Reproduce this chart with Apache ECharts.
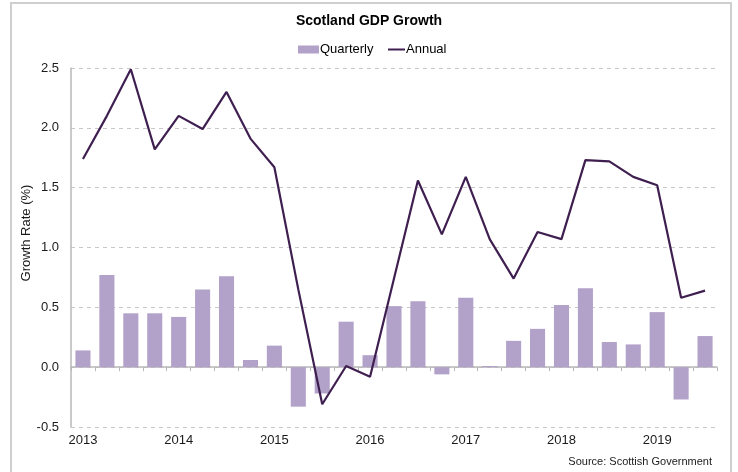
<!DOCTYPE html>
<html>
<head>
<meta charset="utf-8">
<title>Scotland GDP Growth</title>
<script src="https://cdn.jsdelivr.net/npm/echarts@6/dist/echarts.min.js"></script>
<style>
  html, body { margin: 0; padding: 0; background: #ffffff; }
  #chart { width: 738px; height: 472px; }
</style>
</head>
<body>
<div id="chart"></div>
<script>
// Quarters from 2013 Q1 to 2019 Q3; only Q1 carries a year label
const quarters = [
  '2013 Q1','2013 Q2','2013 Q3','2013 Q4',
  '2014 Q1','2014 Q2','2014 Q3','2014 Q4',
  '2015 Q1','2015 Q2','2015 Q3','2015 Q4',
  '2016 Q1','2016 Q2','2016 Q3','2016 Q4',
  '2017 Q1','2017 Q2','2017 Q3','2017 Q4',
  '2018 Q1','2018 Q2','2018 Q3','2018 Q4',
  '2019 Q1','2019 Q2','2019 Q3'
];
const yearLabels = [
  '2013','','','',
  '2014','','','',
  '2015','','','',
  '2016','','','',
  '2017','','','',
  '2018','','','',
  '2019','',''
];

// Growth rates (%)
const quarterly = [
  0.14, 0.77, 0.45, 0.45,
  0.42, 0.65, 0.76, 0.06,
  0.18, -0.33, -0.22, 0.38,
  0.10, 0.51, 0.55, -0.06,
  0.58, 0.01, 0.22, 0.32,
  0.52, 0.66, 0.21, 0.19,
  0.46, -0.27, 0.26
];
const annual = [
  1.74, 2.10, 2.49, 1.82,
  2.10, 1.99, 2.30, 1.91,
  1.67, 0.65, -0.31, 0.01,
  -0.08, 0.74, 1.56, 1.11,
  1.59, 1.07, 0.74, 1.13,
  1.07, 1.73, 1.72, 1.59,
  1.52, 0.58, 0.64
];

const FONT = '"Liberation Sans", Arial, sans-serif';
const BAR_COLOR = '#b2a1c8';
const LINE_COLOR = '#3f1f50';
const TEXT_COLOR = '#1a1a1a';

const chart = echarts.init(document.getElementById('chart'), null, { renderer: 'canvas' });

const legendText = { fontFamily: FONT, fontSize: 13, color: '#000000', padding: [0, 0, 0, -4] };

chart.setOption({
  backgroundColor: '#ffffff',
  animation: false,
  textStyle: { fontFamily: FONT },
  title: {
    text: 'Scotland GDP Growth',
    left: 'center',
    top: 9,
    textStyle: { fontFamily: FONT, fontSize: 14, fontWeight: 'bold', color: '#000000' }
  },
  legend: [
    {
      // bar swatch
      left: 293,
      top: 38,
      itemWidth: 21,
      itemHeight: 8,
      textStyle: legendText,
      data: [{ name: 'Quarterly', icon: 'rect' }]
    },
    {
      // line swatch
      left: 383,
      top: 38,
      itemWidth: 17,
      itemHeight: 2,
      textStyle: legendText,
      data: [{ name: 'Annual', icon: 'rect' }]
    }
  ],
  grid: { left: 71, right: 21, top: 68, bottom: 45, containLabel: false },
  xAxis: [
    {
      // axis line and ticks sitting on the zero line
      type: 'category',
      data: quarters,
      position: 'bottom',
      boundaryGap: true,
      axisLine: { onZero: true, lineStyle: { color: '#b8b8b8', width: 1.5 } },
      axisTick: { show: true, interval: 0, length: 4, lineStyle: { color: '#b8b8b8' } },
      axisLabel: { show: false },
      splitLine: { show: false }
    },
    {
      // year labels along the bottom edge
      type: 'category',
      data: yearLabels,
      position: 'bottom',
      boundaryGap: true,
      axisLine: { show: false, onZero: false },
      axisTick: { show: false },
      axisLabel: { interval: 0, margin: 7, fontFamily: FONT, fontSize: 13, color: TEXT_COLOR },
      splitLine: { show: false }
    }
  ],
  yAxis: {
    type: 'value',
    min: -0.5,
    max: 2.5,
    interval: 0.5,
    axisLine: { show: true, lineStyle: { color: '#b8b8b8', width: 1.5 } },
    axisTick: { show: false },
    axisLabel: {
      margin: 12,
      fontFamily: FONT,
      fontSize: 13,
      color: TEXT_COLOR,
      formatter: v => v.toFixed(1)
    },
    splitLine: { show: true, lineStyle: { color: '#c8c8c8', type: [4, 4], width: 1 } }
  },
  series: [
    {
      name: 'Quarterly',
      type: 'bar',
      xAxisIndex: 0,
      data: quarterly,
      barWidth: '63%',
      itemStyle: { color: BAR_COLOR },
      z: 2
    },
    {
      name: 'Annual',
      type: 'line',
      xAxisIndex: 0,
      data: annual,
      symbol: 'none',
      lineStyle: { color: LINE_COLOR, width: 2.2 },
      itemStyle: { color: LINE_COLOR },
      z: 3
    }
  ],
  graphic: [
    {
      type: 'rect',
      shape: { x: 11, y: 3, width: 720, height: 480 },
      style: { fill: 'none', stroke: '#cfcfcf', lineWidth: 2 },
      silent: true,
      z: -1
    },
    {
      // y-axis title
      type: 'text',
      x: 26,
      y: 233,
      rotation: Math.PI / 2,
      style: {
        text: 'Growth Rate (%)',
        font: '13px "Liberation Sans", Arial, sans-serif',
        fill: TEXT_COLOR,
        align: 'center',
        verticalAlign: 'middle'
      }
    },
    {
      type: 'text',
      right: 26,
      top: 456,
      style: {
        text: 'Source: Scottish Government',
        font: '11px "Liberation Sans", Arial, sans-serif',
        fill: TEXT_COLOR
      }
    }
  ]
});
</script>
</body>
</html>
